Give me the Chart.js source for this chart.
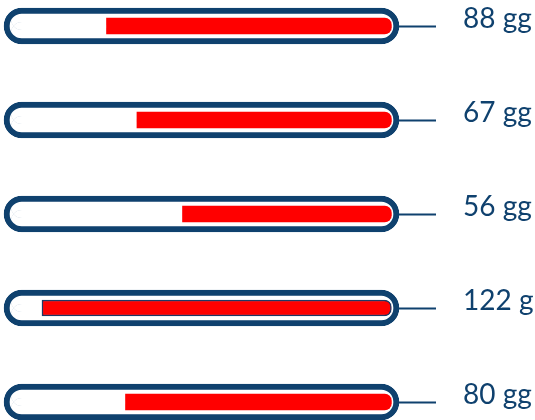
<!DOCTYPE html>
<html>
<head>
<meta charset="utf-8">
<script src="https://cdn.jsdelivr.net/npm/chart.js@4.4.0/dist/chart.umd.min.js"></script>
<style>
  html, body { margin: 0; padding: 0; background: #ffffff; }
  #wrap { width: 535px; height: 420px; }
</style>
</head>
<body>
<div id="wrap"><canvas id="c" width="535" height="420"></canvas></div>
<script>
// ---- data ----
const amounts = [88, 67, 56, 122, 80];
const units = ['gg', 'gg', 'gg', 'g', 'gg'];
const fillLevels = [75, 67, 55, 92, 70];   // visible red fill, % of tube
const labels = amounts.map((v, i) => v + ' ' + units[i]);

const SCALE_MIN = -2, SCALE_MAX = 102;
const NAVY = '#0F416E';
const RED = '#FF0000';

const tubeData = labels.map(() => [SCALE_MIN, SCALE_MAX]);

new Chart(document.getElementById('c'), {
  type: 'bar',
  data: {
    labels: labels,
    datasets: [
      {
        label: 'fill',
        data: fillLevels.map(v => [0, v]),
        backgroundColor: RED,
        borderColor: [RED, RED, RED, '#1F3864', RED],
        borderWidth: [0, 0, 0, 1.5, 0],
        borderSkipped: false,
        borderRadius: { topLeft: 0, bottomLeft: 0, topRight: 7, bottomRight: 7 },
        barThickness: 16,
        grouped: false,
        clip: false,
        order: 0
      },
      {
        label: 'tube-inner',
        data: tubeData,
        backgroundColor: 'rgba(0,0,0,0)',
        borderColor: 'rgba(120,150,180,0.55)',
        borderWidth: 1,
        borderSkipped: false,
        borderRadius: 11,
        barThickness: 22,
        grouped: false,
        clip: false,
        order: 1,
        inflateAmount: -7
      },
      {
        label: 'tube',
        data: tubeData,
        backgroundColor: '#FFFFFF',
        borderColor: NAVY,
        borderWidth: 6,
        borderSkipped: false,
        borderRadius: 18,
        barThickness: 36,
        grouped: false,
        clip: false,
        order: 2
      }
    ]
  },
  options: {
    indexAxis: 'y',
    responsive: false,
    animation: false,
    layout: { padding: { left: 4, top: 26, bottom: 18, right: 0 } },
    plugins: { legend: { display: false }, tooltip: { enabled: false } },
    scales: {
      x: {
        display: false,
        reverse: true,
        min: SCALE_MIN,
        max: SCALE_MAX
      },
      y: {
        position: 'right',
        offset: false,
        border: { display: false },
        grid: {
          offset: false,
          drawOnChartArea: false,
          drawTicks: true,
          tickLength: 37,
          tickColor: NAVY,
          tickWidth: 2
        },
        ticks: {
          padding: 27,
          labelOffset: -7,
          color: NAVY,
          font: { family: 'Lato', size: 28 }
        },
        afterFit: (scale) => {
          scale.width = 136;
          scale.paddingTop = 0;
          scale.paddingBottom = 0;
        }
      }
    }
  }
});
</script>
</body>
</html>
